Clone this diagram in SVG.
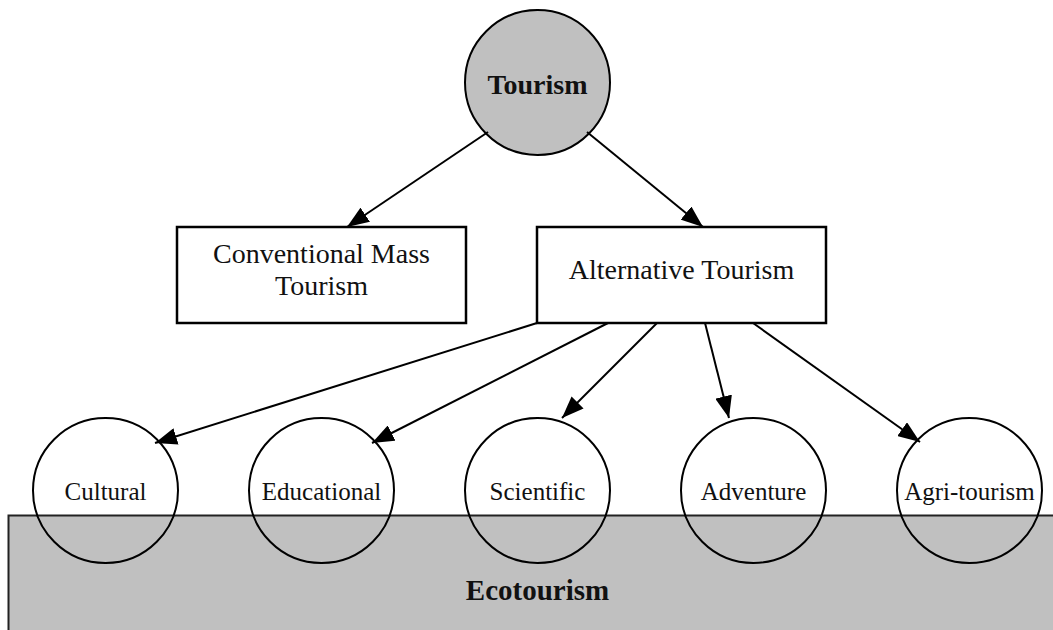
<svg xmlns="http://www.w3.org/2000/svg" width="1053" height="630" viewBox="0 0 1053 630">
<style>
.t{font-family:'Liberation Serif','Times New Roman',Times,serif;fill:#111;text-anchor:middle}
.big{font-size:28px}
.sm{font-size:25px}
.b{font-weight:bold}
.box{fill:#fff;stroke:#000;stroke-width:2.5}
.circ{fill:none;stroke:#000;stroke-width:2}
.edge{stroke:#000;stroke-width:2;fill:none;marker-end:url(#arr)}
</style>
<defs>
<marker id="arr" markerUnits="userSpaceOnUse" markerWidth="23" markerHeight="17" refX="22" refY="8.5" orient="auto">
<path d="M0,0 L22,8.5 L0,17 z" fill="#000"/>
</marker>
</defs>
<rect width="1053" height="630" fill="#fff"/>
<g id="ecotourism">
<rect x="8.5" y="515.5" width="1060" height="130" fill="#c0c0c0" stroke="#222" stroke-width="2"/>
<text class="t b" x="537.5" y="600" font-size="29">Ecotourism</text>
</g>
<g id="tourism">
<circle cx="537.5" cy="82.5" r="72.5" fill="#c0c0c0" stroke="#000" stroke-width="2"/>
<text class="t big b" x="537.5" y="94">Tourism</text>
</g>
<g id="conventional">
<rect class="box" x="177" y="227" width="289" height="96"/>
<text class="t big" x="321.5" y="263">Conventional Mass</text>
<text class="t big" x="321.5" y="295">Tourism</text>
</g>
<g id="alternative">
<rect class="box" x="537" y="227" width="289" height="96"/>
<text class="t big" x="681.5" y="279">Alternative Tourism</text>
</g>
<g id="cultural">
<circle class="circ" cx="105.5" cy="490.5" r="72.5"/>
<text class="t sm" x="105.5" y="500">Cultural</text>
</g>
<g id="educational">
<circle class="circ" cx="321.5" cy="490.5" r="72.5"/>
<text class="t sm" x="321.5" y="500">Educational</text>
</g>
<g id="scientific">
<circle class="circ" cx="537.5" cy="490.5" r="72.5"/>
<text class="t sm" x="537.5" y="500">Scientific</text>
</g>
<g id="adventure">
<circle class="circ" cx="753.5" cy="490.5" r="72.5"/>
<text class="t sm" x="753.5" y="500">Adventure</text>
</g>
<g id="agritourism">
<circle class="circ" cx="969.5" cy="490.5" r="72.5"/>
<text class="t sm" x="969.5" y="500">Agri-tourism</text>
</g>
<g id="connectors">
<line class="edge" x1="488" y1="132" x2="347" y2="227"/>
<line class="edge" x1="587" y1="132" x2="703" y2="227"/>
<line class="edge" x1="537" y1="323" x2="155" y2="443"/>
<line class="edge" x1="608" y1="323" x2="372" y2="443"/>
<line class="edge" x1="657" y1="323" x2="562" y2="418"/>
<line class="edge" x1="705" y1="323" x2="729" y2="418"/>
<line class="edge" x1="753" y1="323" x2="920" y2="442"/>
</g>
</svg>
